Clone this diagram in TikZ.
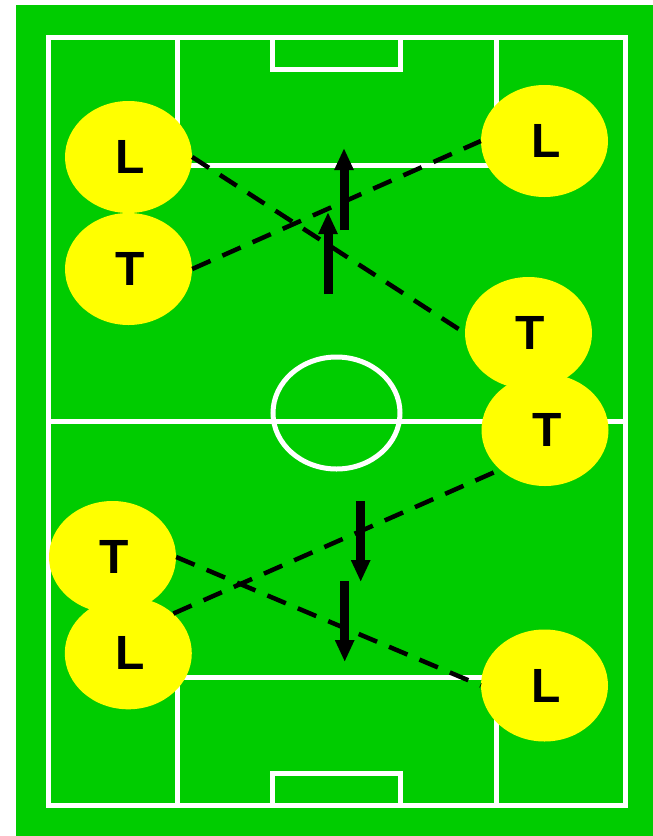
\documentclass[tikz,border=0pt]{standalone}
\usepackage{fontspec}
\setmainfont{Liberation Sans}
\usetikzlibrary{shapes.geometric,arrows.meta}
\definecolor{pitch}{HTML}{00CC00}
\definecolor{player}{HTML}{FFFF00}
\newcommand{\plabel}[1]{\hspace*{4pt}#1}
\tikzset{
  fieldline/.style={draw=white,line width=5pt},
  pl/.style={ellipse,fill=player,draw=none,minimum width=127pt,minimum height=112pt,inner sep=0pt,
     font=\fontsize{48}{48}\selectfont\bfseries,text=black},
  pass/.style={draw=black,line width=4.5pt,dash pattern=on 20pt off 13pt},
  run/.style={draw=black,line width=9pt,-{Triangle[width=18pt,length=22pt]}}
}
\begin{document}
\begin{tikzpicture}[x=1pt,y=-1pt]
\useasboundingbox (0,0) rectangle (653,836);
\fill[pitch] (16,5) rectangle (653,836);
% field markings
\draw[fieldline] (48.5,37.3) rectangle (625,805.5);
\draw[fieldline] (177,37.3) rectangle (496.5,165);
\draw[fieldline] (177,677.5) rectangle (496.5,805.5);
\draw[fieldline] (272.5,37.3) rectangle (400.8,69.3);
\draw[fieldline] (272.5,773.7) rectangle (400.8,805.5);
\draw[fieldline] (48.5,421.5) -- (625,421.5);
\draw[fieldline] (336.5,413) ellipse [x radius=63.5, y radius=56];
% players
\node[pl] (L1) at (128.5,157) {\plabel{L}};
\node[pl] (T1) at (128.5,269) {\plabel{T}};
\node[pl] (L2) at (544.5,141) {\plabel{L}};
\node[pl] (T2) at (528.5,333) {\plabel{T}};
\node[pl] (T3) at (545,430) {\plabel{T}};
\node[pl] (T4) at (112.5,557) {\plabel{T}};
\node[pl] (L3) at (128.3,653.3) {\plabel{L}};
\node[pl] (L4) at (544.5,685.5) {\plabel{L}};
% passes
\draw[pass] (L1.east) -- (T2.west);
\draw[pass] (T1.east) -- (L2.west);
\draw[pass] (T4.east) -- (L4.west);
\draw[pass] (L3.north east) -- (T3.south west);
% runs
\coordinate (a1s) at (344,230);
\coordinate (a1e) at (344,148);
\coordinate (a2s) at (328,294);
\coordinate (a2e) at (328,212);
\coordinate (a3s) at (360.7,501);
\coordinate (a3e) at (360.7,582);
\coordinate (a4s) at (344.7,581);
\coordinate (a4e) at (344.7,662);
\draw[run] (a1s) -- (a1e);
\draw[run] (a2s) -- (a2e);
\draw[run] (a3s) -- (a3e);
\draw[run] (a4s) -- (a4e);
\end{tikzpicture}
\end{document}
